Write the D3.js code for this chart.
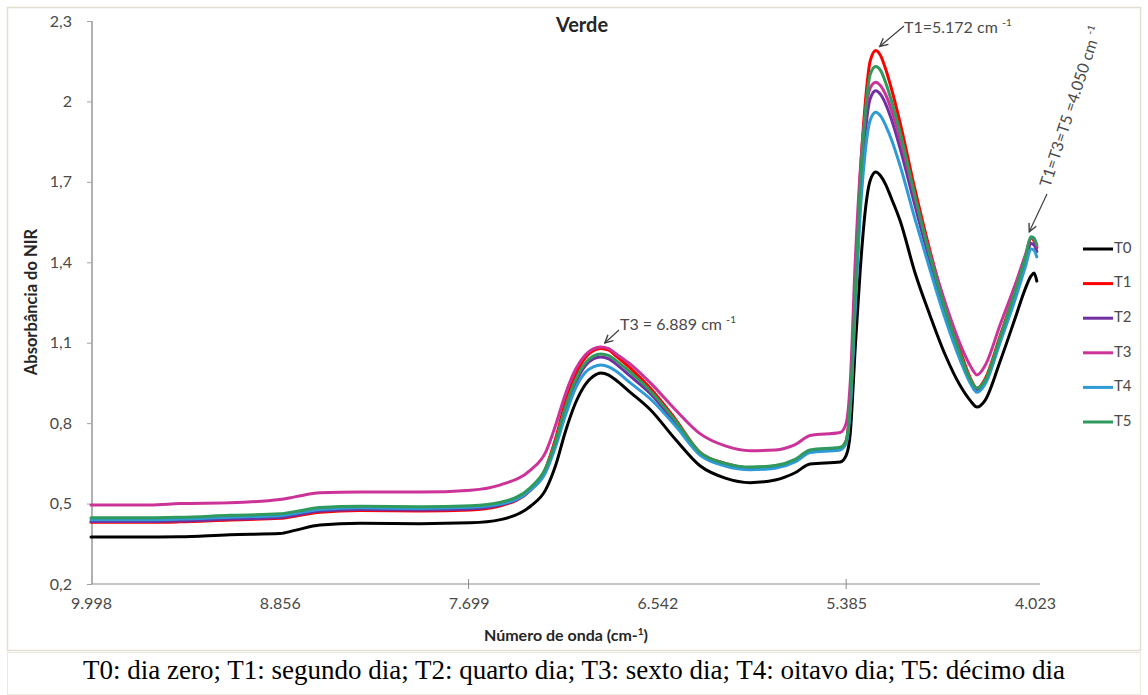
<!DOCTYPE html>
<html>
<head>
<meta charset="utf-8">
<script src="https://cdn.jsdelivr.net/npm/d3@7"></script>
<style>
  body { margin: 0; background: #ffffff; }
  svg { display: block; }
</style>
</head>
<body>
<svg id="chart" width="1148" height="695"></svg>
<script>
// Wavenumbers (cm-1) at which the spectra are sampled
const wavenumbers = [9998, 9642, 9461, 9159, 8856, 8764, 8610, 8364, 7995, 7687,
  7503, 7320, 7228, 7167, 7105, 7044, 6983, 6935, 6889, 6840, 6799,
  6708, 6585, 6432, 6279, 6126, 5973, 5820, 5698, 5606,
  5422, 5385, 5356, 5320, 5284, 5248, 5212, 5172, 5136, 5100, 5060, 4996,
  4888, 4779, 4671, 4563, 4491, 4441, 4383, 4275, 4167, 4094, 4050, 4030, 4010];

// NIR absorbance per storage day
const t0 = [0.375, 0.375, 0.376, 0.384, 0.388, 0.400, 0.420, 0.427, 0.425, 0.428,
  0.44, 0.49, 0.55, 0.64, 0.77, 0.875, 0.945, 0.975, 0.987, 0.979, 0.962,
  0.915, 0.85, 0.74, 0.64, 0.595, 0.578, 0.588, 0.615, 0.648,
  0.655, 0.68, 0.76, 1.08, 1.37, 1.59, 1.705, 1.737, 1.722, 1.69, 1.64, 1.555,
  1.36, 1.20, 1.055, 0.94, 0.885, 0.86, 0.885, 1.03, 1.19, 1.30, 1.35, 1.36, 1.33];
const t1 = [0.430, 0.430, 0.432, 0.439, 0.445, 0.453, 0.468, 0.474, 0.472, 0.476,
  0.492, 0.55, 0.63, 0.74, 0.88, 0.98, 1.045, 1.07, 1.078, 1.072, 1.052,
  1.005, 0.93, 0.815, 0.69, 0.65, 0.634, 0.64, 0.662, 0.698,
  0.708, 0.735, 0.88, 1.30, 1.72, 1.99, 2.15, 2.19, 2.17, 2.12, 2.05, 1.92,
  1.67, 1.44, 1.24, 1.07, 0.97, 0.93, 0.965, 1.125, 1.29, 1.41, 1.49, 1.48, 1.455];
const t2 = [0.433, 0.433, 0.435, 0.442, 0.448, 0.456, 0.472, 0.478, 0.476, 0.480,
  0.495, 0.55, 0.62, 0.72, 0.85, 0.95, 1.015, 1.04, 1.047, 1.04, 1.022,
  0.975, 0.91, 0.80, 0.685, 0.645, 0.63, 0.636, 0.66, 0.695,
  0.705, 0.73, 0.86, 1.25, 1.63, 1.88, 2.01, 2.04, 2.025, 1.99, 1.935, 1.825,
  1.61, 1.40, 1.21, 1.05, 0.96, 0.925, 0.955, 1.11, 1.27, 1.395, 1.47, 1.465, 1.44];
const t3 = [0.495, 0.495, 0.500, 0.503, 0.515, 0.525, 0.540, 0.543, 0.543, 0.550,
  0.57, 0.625, 0.69, 0.79, 0.91, 1.0, 1.055, 1.077, 1.084, 1.078, 1.06,
  1.02, 0.95, 0.85, 0.76, 0.715, 0.697, 0.70, 0.72, 0.754,
  0.765, 0.80, 0.95, 1.40, 1.74, 1.95, 2.05, 2.072, 2.058, 2.025, 1.97, 1.86,
  1.64, 1.43, 1.25, 1.095, 1.015, 0.98, 1.015, 1.166, 1.315, 1.425, 1.49, 1.485, 1.46];
const t4 = [0.440, 0.440, 0.442, 0.449, 0.455, 0.463, 0.478, 0.484, 0.482, 0.486,
  0.498, 0.55, 0.615, 0.71, 0.83, 0.93, 0.99, 1.01, 1.017, 1.01, 0.995,
  0.95, 0.89, 0.79, 0.68, 0.64, 0.626, 0.632, 0.655, 0.69,
  0.70, 0.725, 0.85, 1.22, 1.58, 1.81, 1.93, 1.96, 1.945, 1.91, 1.86, 1.76,
  1.56, 1.37, 1.19, 1.035, 0.95, 0.915, 0.945, 1.10, 1.26, 1.38, 1.45, 1.445, 1.42];
const t5 = [0.447, 0.447, 0.449, 0.456, 0.462, 0.470, 0.485, 0.490, 0.488, 0.492,
  0.505, 0.56, 0.63, 0.73, 0.86, 0.96, 1.025, 1.05, 1.058, 1.052, 1.035,
  0.99, 0.92, 0.81, 0.69, 0.65, 0.636, 0.642, 0.665, 0.70,
  0.71, 0.735, 0.87, 1.28, 1.68, 1.95, 2.10, 2.13, 2.115, 2.07, 2.005, 1.885,
  1.645, 1.42, 1.225, 1.06, 0.965, 0.93, 0.96, 1.12, 1.29, 1.415, 1.495, 1.49, 1.465];

const seriesNames = ["T0", "T1", "T2", "T3", "T4", "T5"];
const seriesValues = [t0, t1, t2, t3, t4, t5];
const seriesColors = ["#000000", "#ff0000", "#7030a0", "#cc3399", "#2e9bd6", "#2f9a5c"];

const xTickValues = [9998, 8856, 7699, 6542, 5385, 4023];
const xMajorTicks = [7699, 5385];
const yTickValues = [0.2, 0.5, 0.8, 1.1, 1.4, 1.7, 2.0, 2.3];

const chartTitle = "Verde";
const yTitle = "Absorbância do NIR";
const xTitle = "Número de onda (cm-";
const caption = "T0: dia zero; T1: segundo dia; T2: quarto dia; T3: sexto dia; T4: oitavo dia; T5: décimo dia";

// Peak annotations: [label prefix, wavenumber, absorbance at the arrow tip]
const peakT3 = ["T3 = 6.889 cm ", 6889, 1.084];
const peakT1 = ["T1=5.172 cm ", 5172, 2.19];
const peakEnd = ["T1=T3=T5 =4.050 cm ", 4050, 1.495];

// Brazilian number formats: 9.998 and 0,5
const ptBR = d3.formatLocale({ decimal: ",", thousands: ".", grouping: [3], currency: ["R$", ""] });
const fmtX = ptBR.format(",");
const fmtY = ptBR.format(".1~f");

const svg = d3.select("#chart");
const plot = { left: 92, right: 1040, top: 21, bottom: 584 };
const labelLeft = 91, labelRight = 1035;

// Category-style axis: the labelled wavenumbers sit at equal spacing
const x = d3.scaleLinear()
  .domain(xTickValues)
  .range(xTickValues.map((d, i) => labelLeft + i * (labelRight - labelLeft) / (xTickValues.length - 1)));
const y = d3.scaleLinear().domain([0.2, 2.3]).range([plot.bottom, plot.top]);

const font = "Lato, 'Open Sans', sans-serif";
const labelColor = "#4a4a4a";

// Frames
svg.append("rect").attr("x", 0).attr("y", 0).attr("width", 1148).attr("height", 695).attr("fill", "#ffffff");
svg.append("rect").attr("x", 7.5).attr("y", 7.5).attr("width", 1133).attr("height", 643)
  .attr("fill", "none").attr("stroke", "#e3dfd2").attr("stroke-width", 1.5);
svg.append("rect").attr("x", 7.5).attr("y", 652.5).attr("width", 1133).attr("height", 42)
  .attr("fill", "none").attr("stroke", "#ece9df").attr("stroke-width", 1);

// Y axis
const yAxis = svg.append("g").attr("transform", `translate(${plot.left},0)`)
  .call(d3.axisLeft(y).tickValues(yTickValues).tickFormat(fmtY).tickSize(5).tickPadding(15));
yAxis.select(".domain").remove();
yAxis.selectAll(".tick line").attr("stroke", "#a0a0a0");
yAxis.selectAll(".tick text").attr("font-family", font).attr("font-size", 16).attr("fill", labelColor);
svg.append("line").attr("x1", plot.left).attr("x2", plot.left).attr("y1", plot.top).attr("y2", plot.bottom)
  .attr("stroke", "#b0b0b0").attr("stroke-width", 2);

// X axis
const xAxis = svg.append("g").attr("transform", `translate(0,${plot.bottom})`)
  .call(d3.axisBottom(x).tickValues(xTickValues).tickFormat(fmtX).tickSize(0).tickPadding(14));
xAxis.select(".domain").remove();
xAxis.selectAll(".tick text").attr("font-family", font).attr("font-size", 16).attr("fill", labelColor);
svg.append("line").attr("x1", plot.left).attr("x2", plot.right).attr("y1", plot.bottom).attr("y2", plot.bottom)
  .attr("stroke", "#8c8c8c").attr("stroke-width", 1.2);
svg.selectAll(".xmajor").data(xMajorTicks).enter().append("line")
  .attr("x1", d => x(d)).attr("x2", d => x(d)).attr("y1", plot.bottom - 5).attr("y2", plot.bottom + 5)
  .attr("stroke", "#8c8c8c").attr("stroke-width", 1);

// Axis titles
svg.append("text").attr("transform", "translate(33,302) rotate(-90)").attr("text-anchor", "middle")
  .attr("dominant-baseline", "middle").attr("font-family", font).attr("font-weight", "bold")
  .attr("font-size", 16.5).attr("fill", "#262626").text(yTitle);
const xt = svg.append("text").attr("x", (plot.left + plot.right) / 2).attr("y", 641).attr("text-anchor", "middle")
  .attr("font-family", font).attr("font-weight", "bold").attr("font-size", 16).attr("fill", "#262626");
xt.append("tspan").text(xTitle);
xt.append("tspan").attr("dy", -6).attr("font-size", 10).text("1");
xt.append("tspan").attr("dy", 6).text(")");

// Title
svg.append("text").attr("x", 582).attr("y", 27).attr("text-anchor", "middle").attr("dominant-baseline", "middle")
  .attr("font-family", font).attr("font-weight", "bold").attr("font-size", 20).attr("fill", "#262626").text(chartTitle);

// Spectra
const line = d3.line().x(d => x(d[0])).y(d => y(d[1])).curve(d3.curveMonotoneX);
seriesValues.forEach((vals, i) => {
  svg.append("path")
    .datum(wavenumbers.map((w, j) => [w, vals[j]]))
    .attr("fill", "none").attr("stroke", seriesColors[i]).attr("stroke-width", 3)
    .attr("stroke-linejoin", "round").attr("stroke-linecap", "round")
    .attr("d", line);
});

// Legend
const legend = svg.append("g");
seriesNames.forEach((name, i) => {
  const ly = 249 + i * 34.6;
  legend.append("line").attr("x1", 1083).attr("x2", 1113).attr("y1", ly).attr("y2", ly)
    .attr("stroke", seriesColors[i]).attr("stroke-width", 3);
  legend.append("text").attr("x", 1114).attr("y", ly).attr("dominant-baseline", "middle")
    .attr("font-family", font).attr("font-size", 15).attr("fill", labelColor).text(name);
});

// Arrow marker
const defs = svg.append("defs");
defs.append("marker").attr("id", "arrow").attr("viewBox", "0 0 10 10").attr("refX", 9).attr("refY", 5)
  .attr("markerWidth", 10).attr("markerHeight", 10).attr("orient", "auto-start-reverse").attr("markerUnits", "userSpaceOnUse")
  .append("path").attr("d", "M1,1 L9,5 L1,9").attr("fill", "none").attr("stroke", "#404040").attr("stroke-width", 1.4);

function annotate(spec, tx, ty, fromX, fromY, tipDx, tipDy, angle) {
  const px = x(spec[1]) + tipDx, py = y(spec[2]) + tipDy;
  svg.append("line").attr("x1", fromX).attr("y1", fromY).attr("x2", px).attr("y2", py)
    .attr("stroke", "#404040").attr("stroke-width", 1.2).attr("marker-end", "url(#arrow)");
  const t = svg.append("text").attr("transform", `translate(${tx},${ty}) rotate(${angle})`)
    .attr("font-family", font).attr("font-size", 16).attr("fill", labelColor);
  t.append("tspan").text(spec[0]);
  t.append("tspan").attr("font-size", 11).attr("dy", -6).text("-");
  t.append("tspan").attr("font-size", 10).attr("dy", -1).text("1");
}
annotate(peakT3, 620, 330, 619, 330, 4, -4, 0);
annotate(peakT1, 904, 33, 904, 26, 4, -4, 0);
annotate(peakEnd, 1050, 188, 1047, 194, -2, -5, -72);

// Caption
svg.append("text").attr("x", 574).attr("y", 673).attr("text-anchor", "middle").attr("dominant-baseline", "middle")
  .attr("font-family", "'Liberation Serif', 'Times New Roman', serif").attr("font-size", 27).attr("fill", "#000000")
  .text(caption);
</script>
</body>
</html>
